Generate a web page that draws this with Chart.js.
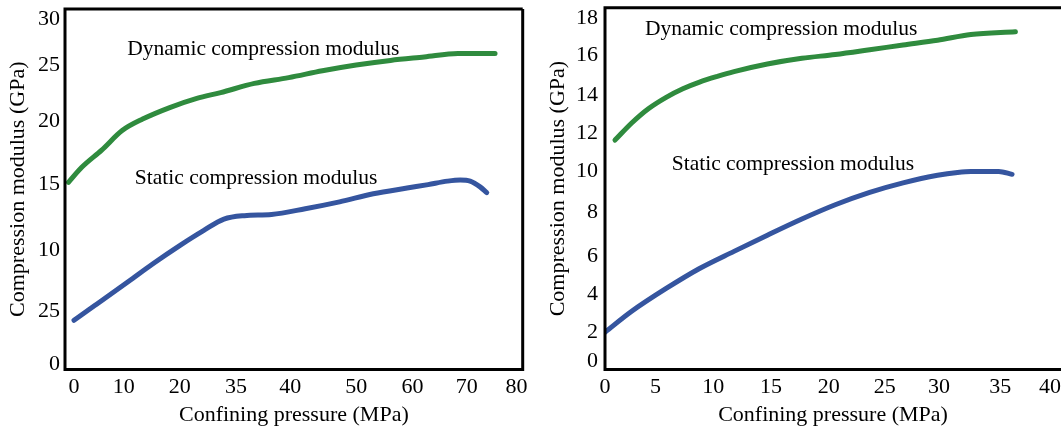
<!DOCTYPE html>
<html>
<head>
<meta charset="utf-8">
<script src="https://cdn.jsdelivr.net/npm/chart.js@4/dist/chart.umd.min.js"></script>
<style>
  html, body { margin: 0; padding: 0; background: #fff; }
  canvas { position: absolute; top: 0; }
  #left-chart { left: 0; }
  #right-chart { left: 530px; }
</style>
</head>
<body>
<canvas id="left-chart" width="530" height="428"></canvas>
<canvas id="right-chart" width="531" height="428"></canvas>
<script>
// left panel: confining pressure up to 80 MPa
const leftDynX = [-1.0, 1.4, 5.0, 8.7, 12.4, 17.3, 22.2, 26.5, 32.6, 38.8, 44.9, 51.0, 57.2, 63.3, 69.4, 76.1];
const leftDynY = [15.8, 17.1, 18.6, 20.3, 21.3, 22.3, 23.1, 23.6, 24.4, 24.9, 25.5, 26.0, 26.4, 26.7, 27.0, 27.0];
const leftStatX = [0, 3.8, 9.9, 14.2, 19.1, 23.4, 27.1, 30.8, 35.7, 41.8, 48.0, 54.1, 60.2, 64.0, 67.5, 69.8, 71.6, 73.4, 74.6];
const leftStatY = [3.8, 5.1, 7.2, 8.7, 10.3, 11.6, 12.6, 12.9, 13.0, 13.5, 14.1, 14.8, 15.3, 15.6, 15.9, 16.0, 15.9, 15.4, 14.9];
const leftXTicks = [0, 9.0, 19.1, 29.3, 39.1, 51.0, 61.2, 71.0, 80];
const leftXLabels = ['0', '10', '20', '35', '40', '50', '60', '70', '80'];
const leftYTicks = [0, 4.6, 9.9, 15.6, 21.1, 26.0, 30];
const leftYLabels = ['0', '25', '10', '15', '20', '25', '30'];

// right panel: confining pressure up to 40 MPa
const rightDynX = [0.9, 2.4, 3.9, 5.5, 7.0, 8.5, 10.1, 11.6, 14.6, 17.7, 20.7, 23.8, 26.8, 29.9, 32.9, 36.9];
const rightDynY = [11.6, 12.5, 13.25, 13.85, 14.3, 14.65, 14.95, 15.2, 15.6, 15.9, 16.1, 16.35, 16.6, 16.85, 17.15, 17.3];
const rightStatX = [0, 2.4, 5.5, 8.5, 11.6, 14.6, 17.7, 20.7, 23.8, 26.8, 29.9, 31.7, 32.9, 35.4, 36.6];
const rightStatY = [1.5, 2.6, 3.8, 4.85, 5.75, 6.6, 7.45, 8.2, 8.85, 9.35, 9.75, 9.9, 9.95, 9.95, 9.8];
const rightXTicks = [0, 4.55, 9.74, 14.93, 20.12, 25.15, 30.04, 35.54, 40];
const rightXLabels = ['0', '5', '10', '15', '20', '25', '30', '35', '40'];
const rightYTicks = [0, 1.49, 3.5, 5.52, 7.82, 9.94, 11.96, 13.97, 16.07, 18];
const rightYLabels = ['0', '2', '4', '6', '8', '10', '12', '14', '16', '18'];

const noteTexts = ['Dynamic compression modulus', 'Static compression modulus'];
const xTitle = 'Confining pressure (MPa)';
const yTitle = 'Compression modulus (GPa)';

const SERIF = "'Liberation Serif', 'Times New Roman', serif";
const GREEN = '#2f8b3e';
const BLUE = '#35559f';

const toPoints = (xs, ys) => xs.map((x, i) => ({ x: x, y: ys[i] }));

// black frame around the plot area
const framePlugin = {
    id: 'frame',
    afterDraw(chart, args, opts) {
        const { ctx, chartArea: a } = chart;
        const r = opts.right ? a.right : chart.width;
        ctx.save();
        ctx.strokeStyle = '#000';
        ctx.lineWidth = 3;
        ctx.beginPath();
        ctx.moveTo(r, a.top);
        ctx.lineTo(a.left, a.top);
        ctx.lineTo(a.left, a.bottom);
        ctx.lineTo(r, a.bottom);
        if (opts.right) ctx.lineTo(a.right, a.top);
        ctx.stroke();
        ctx.restore();
    }
};

// curve names written inside the plot
const notesPlugin = {
    id: 'notes',
    afterDatasetsDraw(chart, args, opts) {
        const { ctx, scales } = chart;
        ctx.save();
        ctx.fillStyle = '#000';
        ctx.font = '21.5px ' + SERIF;
        ctx.textAlign = 'left';
        ctx.textBaseline = 'alphabetic';
        opts.items.forEach(n => {
            ctx.fillText(n.text, scales.x.getPixelForValue(n.x), scales.y.getPixelForValue(n.y));
        });
        ctx.restore();
    }
};

function makeAxis(ticks, labels, min, max, title, size, tickPad, titlePad) {
    const horizontal = size.height !== undefined;
    return {
        type: 'linear',
        min: min,
        max: max,
        grid: { display: false, drawTicks: false },
        border: { display: false },
        afterBuildTicks: s => { s.ticks = ticks.map(v => ({ value: v })); },
        ticks: {
            autoSkip: false,
            maxRotation: 0,
            padding: tickPad,
            color: '#000',
            font: { family: SERIF, size: 22 },
            callback: (v, i) => labels[i]
        },
        title: {
            display: true,
            text: title,
            color: '#000',
            font: { family: SERIF, size: 22 },
            padding: titlePad
        },
        afterFit: s => {
            if (horizontal) {
                s.height = size.height;
                s.paddingLeft = 0;
                s.paddingRight = 0;
            } else {
                s.width = size.width;
                s.paddingTop = 0;
                s.paddingBottom = 0;
            }
        }
    };
}

function makeChart(id, cfg) {
    return new Chart(document.getElementById(id), {
        type: 'line',
        data: {
            datasets: [
                { data: toPoints(cfg.dynX, cfg.dynY), borderColor: GREEN },
                { data: toPoints(cfg.statX, cfg.statY), borderColor: BLUE }
            ]
        },
        options: {
            responsive: false,
            animation: false,
            devicePixelRatio: 1,
            layout: { padding: cfg.padding },
            elements: {
                point: { radius: 0 },
                line: { borderWidth: 5, cubicInterpolationMode: 'monotone', borderCapStyle: 'round', borderJoinStyle: 'round' }
            },
            plugins: {
                legend: { display: false },
                tooltip: { enabled: false },
                frame: { right: cfg.frameRight },
                notes: { items: cfg.notes }
            },
            scales: {
                x: makeAxis(cfg.xTicks, cfg.xLabels, cfg.xMin, cfg.xMax, xTitle, { height: 58.5 }, 5, { bottom: 0 }),
                y: makeAxis(cfg.yTicks, cfg.yLabels, cfg.yMin, cfg.yMax, yTitle, { width: cfg.yWidth }, cfg.yTickPad, { top: cfg.yTitlePad })
            }
        },
        plugins: [framePlugin, notesPlugin]
    });
}

makeChart('left-chart', {
    dynX: leftDynX, dynY: leftDynY, statX: leftStatX, statY: leftStatY,
    xTicks: leftXTicks, xLabels: leftXLabels, yTicks: leftYTicks, yLabels: leftYLabels,
    xMin: -1.63, xMax: 81.1, yMin: -0.48, yMax: 30.87,
    padding: { top: 9, right: 7.3, left: 0, bottom: 0 },
    yWidth: 65, yTickPad: 5, yTitlePad: 4.8, frameRight: true,
    notes: [
        { text: noteTexts[0], x: 9.6, y: 26.9 },
        { text: noteTexts[1], x: 11.0, y: 15.65 }
    ]
});

makeChart('right-chart', {
    dynX: rightDynX, dynY: rightDynY, statX: rightStatX, statY: rightStatY,
    xTicks: rightXTicks, xLabels: rightXLabels, yTicks: rightYTicks, yLabels: rightYLabels,
    xMin: 0, xMax: 41.0, yMin: -0.46, yMax: 18.56,
    padding: { top: 7.7, right: 0, left: 0, bottom: 0 },
    yWidth: 75, yTickPad: 7, yTitlePad: 15.5, frameRight: false,
    notes: [
        { text: noteTexts[0], x: 3.6, y: 17.12 },
        { text: noteTexts[1], x: 6.0, y: 10.03 }
    ]
});
</script>
</body>
</html>
